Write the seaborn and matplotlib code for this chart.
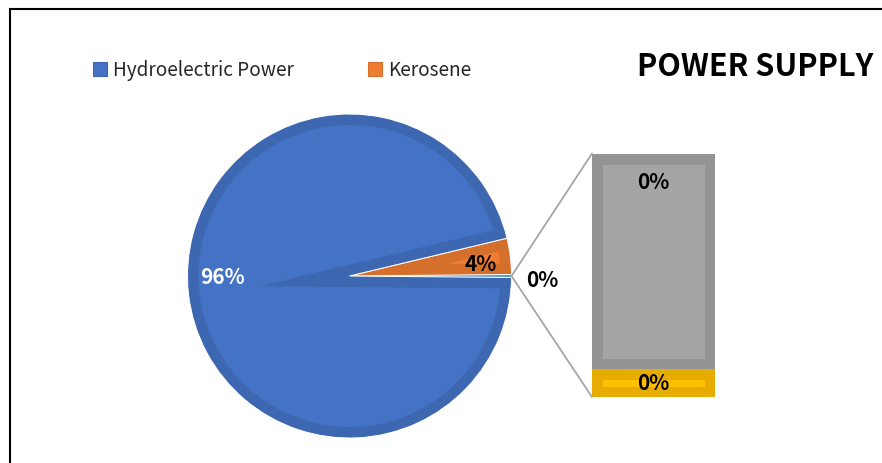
import numpy as np
import pandas as pd
import matplotlib
matplotlib.use("Agg")
import matplotlib.pyplot as plt
import seaborn as sns
from matplotlib.patches import Polygon, Rectangle, Patch, ConnectionPatch

# ---- data -------------------------------------------------------------
pie_labels = ["Hydroelectric Power", "Kerosene"]
pie_values = [96.1, 3.6]                      # percent of supply
bar_labels = ["Other source B", "Other source A"]   # bottom -> top of the stacked bar
bar_values = [0.035, 0.265]                   # percent, split out of the pie
chart_title = "POWER SUPPLY"

# ---- colours (fill, darker rim) ---------------------------------------
hydro_fill, hydro_rim = "#4472C4", "#3D67B0"
kero_fill, kero_rim = "#ED7D31", "#D5702C"
other_fill = "#5B9BD5"
bar_fills = ["#FFC000", "#A5A5A5"]
bar_rims = ["#E6AD00", "#949494"]

W, H, DPI = 882, 464, 100
RIM_PX = 11  # width of the darker inner rim on every shape

sns.set_theme(style="white")
plt.rcParams["font.family"] = ["Noto Sans CJK KR", "DejaVu Sans"]

fig = plt.figure(figsize=(W / DPI, H / DPI), dpi=DPI)
fig.patch.set_facecolor("white")


def px_axes(x0, y0, x1, y1):
    """Axes placed by pixel box (top-left origin)."""
    return fig.add_axes([x0 / W, 1 - y1 / H, (x1 - x0) / W, (y1 - y0) / H])


def fmt_pct(v):
    return f"{v:.0f}%"


# ---- pie ----------------------------------------------------------------
cx, cy, R = 349.5, 277.0, 162.0
pad = 1.05
pax = px_axes(cx - pad * R, cy - pad * R, cx + pad * R, cy + pad * R)

other_total = sum(bar_values)
slices = [other_total, pie_values[1], pie_values[0]]
start = -other_total / sum(slices) * 360 / 2
wedges, _ = pax.pie(
    slices,
    colors=[other_fill, kero_rim, hydro_rim],
    startangle=start,
    counterclock=True,
    radius=1,
    wedgeprops=dict(linewidth=0.7, edgecolor="white"),
)
wedges[0].set_linewidth(0)
pax.set_xlim(-pad, pad)
pax.set_ylim(-pad, pad)
pax.set_aspect("equal")
pax.axis("off")

w = RIM_PX / R


def inset_outline(theta1, theta2, r, w, n=200):
    """Inner highlight of a wedge: both radial edges pushed inward by w."""
    t1, t2 = np.radians(theta1), np.radians(theta2)
    d1 = np.array([np.cos(t1), np.sin(t1)])
    d2 = np.array([np.cos(t2), np.sin(t2)])
    n1 = np.array([-np.sin(t1), np.cos(t1)])
    n2 = np.array([np.sin(t2), -np.cos(t2)])
    apex = np.linalg.solve(np.vstack([n1, n2]), [w, w])
    rr = r - w
    s = np.sqrt(rr ** 2 - w ** 2)
    p1 = w * n1 + s * d1
    p2 = w * n2 + s * d2
    a1 = np.arctan2(p1[1], p1[0])
    a2 = np.arctan2(p2[1], p2[0])
    while a2 <= a1:
        a2 += 2 * np.pi
    ang = np.linspace(a1, a2, n)
    arc = np.column_stack([rr * np.cos(ang), rr * np.sin(ang)])
    return np.vstack([apex, arc, apex])


for wedge, fill in [(wedges[1], kero_fill), (wedges[2], hydro_fill)]:
    pts = inset_outline(wedge.theta1, wedge.theta2, wedge.r, w)
    pax.add_patch(Polygon(pts, closed=True, facecolor=fill, edgecolor="none",
                          zorder=wedge.get_zorder() + 0.1))

# slice labels
label_spots = {  # (x, y) in pie radius units
    "hydro": (-0.785, 0.0),
    "kero": (0.81, 0.075),
    "other": (1.19, -0.02),
}
pax.text(*label_spots["hydro"], fmt_pct(pie_values[0]), color="white",
         fontsize=15, fontweight="bold", ha="center", va="center", zorder=5)
pax.text(*label_spots["kero"], fmt_pct(pie_values[1]), color="black",
         fontsize=15, fontweight="bold", ha="center", va="center", zorder=5)
pax.text(*label_spots["other"], fmt_pct(other_total), color="black",
         fontsize=15, fontweight="bold", ha="center", va="center", zorder=5,
         clip_on=False)

# ---- stacked bar of the split-out slice -------------------------------
bax = px_axes(592, 154.5, 714.5, 398)
bottoms = np.concatenate([[0], np.cumsum(bar_values)[:-1]])
bar_df = pd.DataFrame({"segment": bar_labels, "share": bar_values, "base": bottoms})
for i, row in bar_df.iterrows():
    sns.barplot(x=[0], y=[row["share"]], bottom=row["base"], color=bar_fills[i],
                saturation=1, width=1, ax=bax)
for patch, rim in zip(bax.patches, bar_rims):
    patch.set_edgecolor(rim)
    patch.set_linewidth(2 * (RIM_PX - 0.5) * 72 / DPI)
    patch.set_joinstyle("miter")
    patch.set_clip_path(patch)
bax.set_xlim(-0.5, 0.5)
bax.set_ylim(0, other_total)
bax.axis("off")

# labels: lower segment centred, upper segment near its top
bax.annotate(fmt_pct(bar_values[0]), xy=(0, bar_values[0] / 2), ha="center",
             va="center", fontsize=15, fontweight="bold", color="black")
bax.annotate(fmt_pct(bar_values[1]), xy=(0, other_total), xytext=(0, -20),
             textcoords="offset points", ha="center", va="center",
             fontsize=15, fontweight="bold", color="black")

# ---- connector lines ---------------------------------------------------
for corner in [(0, 1), (0, 0)]:
    fig.add_artist(ConnectionPatch(xyA=(1, 0), coordsA=pax.transData,
                                   xyB=corner, coordsB=bax.transAxes,
                                   color="#A6A6A6", linewidth=1.3))

# ---- legend and title --------------------------------------------------
handles = [Patch(facecolor=hydro_fill, edgecolor=hydro_rim, linewidth=0.8),
           Patch(facecolor=kero_fill, edgecolor=kero_rim, linewidth=0.8)]
fig.legend(handles, pie_labels, loc="center left",
           bbox_to_anchor=(93 / W, 1 - 71 / H), ncol=2, frameon=False,
           fontsize=13.7, handlelength=0.75, handleheight=0.75,
           handletextpad=0.3, columnspacing=3.9, borderpad=0, borderaxespad=0,
           labelcolor="#262626")

fig.text(637 / W, 1 - 67 / H, chart_title, ha="left", va="center",
         fontsize=22, fontweight="bold", color="black")

# chart frame
fig.add_artist(Rectangle((10 / W, -0.1), 1.2, 1.1 - 10 / H,
                         transform=fig.transFigure, fill=False,
                         edgecolor="black", linewidth=1.5))

fig.savefig("out.png", dpi=DPI)
